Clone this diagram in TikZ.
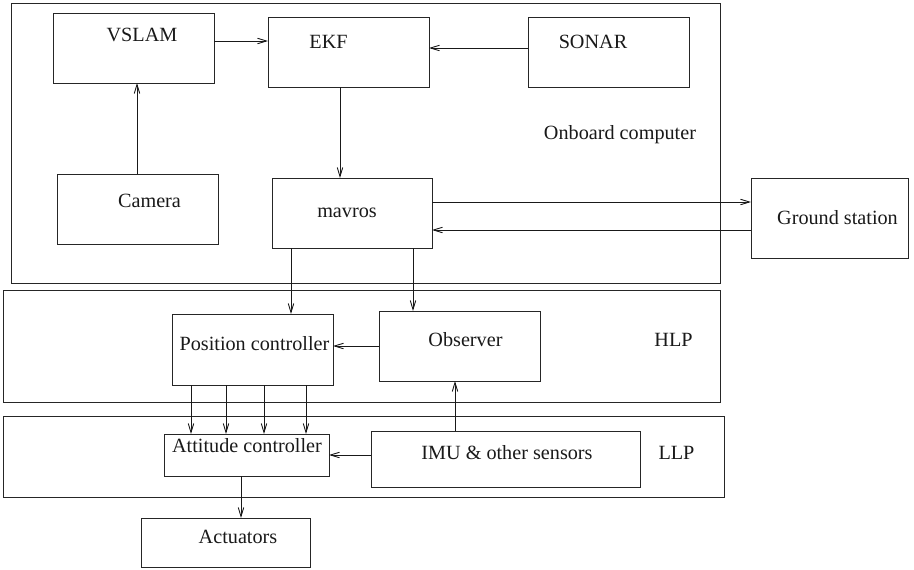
\documentclass[tikz,border=0pt]{standalone}
\usepackage{fontspec}
\setmainfont{Liberation Serif}
\usetikzlibrary{arrows.meta}
\tikzset{
  box/.style={draw=black!85, line width=0.9pt, rectangle, inner sep=0pt, outer sep=0pt},
  lbl/.style={anchor=base, inner sep=0pt, font=\fontsize{20.2}{24}\selectfont, text=black!90},
  arr/.style={draw=black!90, line width=0.9pt, -{Straight Barb[length=9pt,width=5.5pt]}}
}
\begin{document}
\begin{tikzpicture}[x=1pt,y=-1pt]
\useasboundingbox (0,0) rectangle (914,570);
% frames
\node[box, minimum width=709, minimum height=280] (onboard) at (365.5,143) {};
\node[box, minimum width=717, minimum height=112] (hlp) at (361.5,346) {};
\node[box, minimum width=721, minimum height=81] (llp) at (363.5,456.5) {};
% boxes
\node[box, minimum width=161, minimum height=70] (vslam) at (133.5,48) {};
\node[box, minimum width=161, minimum height=70] (ekf) at (348.5,52) {};
\node[box, minimum width=161, minimum height=70] (sonar) at (608.5,52) {};
\node[box, minimum width=161, minimum height=70] (camera) at (137.5,209) {};
\node[box, minimum width=160, minimum height=70] (mavros) at (352,213) {};
\node[box, minimum width=157, minimum height=80] (ground) at (829.5,218) {};
\node[box, minimum width=161, minimum height=71] (pos) at (252.5,349.5) {};
\node[box, minimum width=161, minimum height=70] (obs) at (459.5,346) {};
\node[box, minimum width=165, minimum height=42] (att) at (246.5,455) {};
\node[box, minimum width=269, minimum height=56] (imu) at (505.5,459) {};
\node[box, minimum width=169, minimum height=49] (act) at (225.5,542.5) {};
% labels
\node[lbl] (vslamT) at (142,41.5) {VSLAM};
\node[lbl] (ekfT) at (328.5,48) {EKF};
\node[lbl] (sonarT) at (593,48) {SONAR};
\node[lbl] (cameraT) at (149.5,207) {Camera};
\node[lbl] (mavrosT) at (347,217) {mavros};
\node[lbl] (onboardT) at (620,139) {Onboard computer};
\node[lbl] (groundT) at (837.5,224) {Ground station};
\node[lbl] (posT) at (254.5,350) {Position controller};
\node[lbl] (obsT) at (465.5,346) {Observer};
\node[lbl] (hlpT) at (673.5,346) {HLP};
\node[lbl] (attT) at (247,452) {Attitude controller};
\node[lbl] (imuT) at (507,459) {IMU \& other sensors};
\node[lbl] (llpT) at (676.5,459) {LLP};
\node[lbl] (actT) at (238,543) {Actuators};
% connectors
\draw[arr] (vslam.east |- 0,41) -- (ekf.west |- 0,41);
\draw[arr] (sonar.west |- 0,48) -- (ekf.east |- 0,48);
\draw[arr] (camera.north -| 137,0) -- (vslam.south -| 137,0);
\draw[arr] (ekf.south -| 340,0) -- (mavros.north -| 340,0);
\draw[arr] (mavros.east |- 0,202) -- (ground.west |- 0,202);
\draw[arr] (ground.west |- 0,230) -- (mavros.east |- 0,230);
\draw[arr] (mavros.south -| 291,0) -- (pos.north -| 291,0);
\draw[arr] (mavros.south -| 413,0) -- (obs.north -| 413,0);
\draw[arr] (obs.west |- 0,346) -- (pos.east |- 0,346);
\draw[arr] (imu.north -| 455,0) -- (obs.south -| 455,0);
\foreach \xx in {191,226,264,306} {
  \draw[arr] (pos.south -| \xx,0) -- (att.north -| \xx,0);
}
\draw[arr] (imu.west |- 0,455) -- (att.east |- 0,455);
\draw[arr] (att.south -| 241,0) -- (act.north -| 241,0);
\end{tikzpicture}
\end{document}
